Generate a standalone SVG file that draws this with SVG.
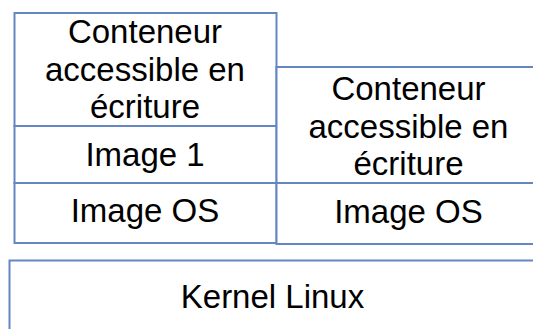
<svg xmlns="http://www.w3.org/2000/svg" width="533" height="329" viewBox="0 0 533 329">
<style>
  .box { fill: #ffffff; stroke: #6487c4; stroke-width: 2; }
  .lbl { font-family: "Liberation Sans", Arial, sans-serif; font-size: 33px; fill: #000000; text-anchor: middle; }
</style>
<rect width="533" height="329" fill="#ffffff"/>
<g id="left-container">
  <rect class="box" x="14.5" y="13" width="262" height="113"/>
  <text class="lbl" x="145" y="43">Conteneur</text>
  <text class="lbl" x="145" y="81">accessible en</text>
  <text class="lbl" x="145" y="118">écriture</text>
</g>
<g id="left-image1">
  <rect class="box" x="14.5" y="126" width="262" height="57"/>
  <text class="lbl" x="145" y="166">Image 1</text>
</g>
<g id="left-imageos">
  <rect class="box" x="14.5" y="183" width="262" height="60"/>
  <text class="lbl" x="145" y="222">Image OS</text>
</g>
<g id="right-container">
  <rect class="box" x="276.5" y="67" width="270" height="116"/>
  <text class="lbl" x="408.5" y="100">Conteneur</text>
  <text class="lbl" x="408.5" y="138">accessible en</text>
  <text class="lbl" x="408.5" y="175">écriture</text>
</g>
<g id="right-imageos">
  <rect class="box" x="276.5" y="183" width="270" height="61"/>
  <text class="lbl" x="408.5" y="223">Image OS</text>
</g>
<g id="kernel">
  <rect class="box" x="9.5" y="260.5" width="535" height="80"/>
  <text class="lbl" x="272.5" y="308">Kernel Linux</text>
</g>
</svg>
